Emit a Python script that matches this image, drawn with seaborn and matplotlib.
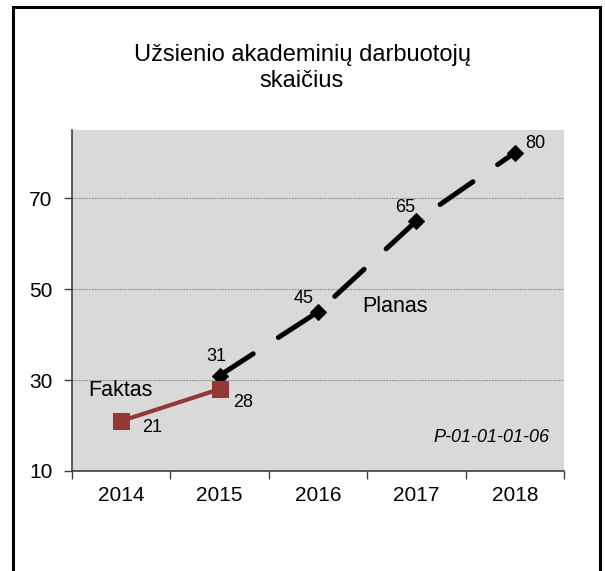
import numpy as np
import pandas as pd
import matplotlib
matplotlib.use("Agg")
import matplotlib.pyplot as plt
import seaborn as sns
from matplotlib.patches import Rectangle

sns.set_style("white")
plt.rcParams["font.family"] = ["Liberation Sans", "DejaVu Sans"]
plt.rcParams["text.color"] = "black"
plt.rcParams["xtick.color"] = "black"
plt.rcParams["ytick.color"] = "black"

years = ["2014", "2015", "2016", "2017", "2018"]
faktas_years = ["2014", "2015"]
faktas_values = [21, 28]
planas_years = ["2015", "2016", "2017", "2018"]
planas_values = [31, 45, 65, 80]

df_f = pd.DataFrame({"x": [years.index(y) for y in faktas_years], "v": faktas_values})
df_p = pd.DataFrame({"x": [years.index(y) for y in planas_years], "v": planas_values})

fig = plt.figure(figsize=(6.05, 5.71), dpi=100)
ax = fig.add_axes([72 / 605, 100 / 571, 492 / 605, 341 / 571])
ax.set_facecolor("#d9d9d9")

# outer frame
fig.patches.append(Rectangle((13 / 605, -0.05), 587 / 605, 1.05 - 7 / 571,
                             transform=fig.transFigure, fill=False,
                             edgecolor="black", linewidth=2.2))

for yv in [30, 50, 70]:
    ax.axhline(yv, color="#8c8c8c", linestyle=(0, (1.5, 1)), linewidth=0.8, zorder=1)

sns.lineplot(data=df_p, x="x", y="v", ax=ax, color="black", linewidth=3.6,
             linestyle=(0, (8, 6)), dash_capstyle="round", marker="D",
             markersize=8, markeredgecolor="black", zorder=3)
sns.lineplot(data=df_f, x="x", y="v", ax=ax, color="#953735", linewidth=3,
             marker="s", markersize=12, markeredgecolor="#953735", zorder=4)

# data labels (offsets in points)
f_offsets = [(22, -5), (17, -9.5)]
p_offsets = [(-2, 14), (-10, 9.5), (-8, 9.5), (15, 6.5)]
for (x, v), off in zip(zip(df_f["x"], df_f["v"]), f_offsets):
    ax.annotate(str(v), (x, v), xytext=off, textcoords="offset points",
                fontsize=13, ha="center", va="center")
for (x, v), off in zip(zip(df_p["x"], df_p["v"]), p_offsets):
    ax.annotate(str(v), (x, v), xytext=off, textcoords="offset points",
                fontsize=13, ha="center", va="center")

ax.text(-0.337, 27.8, "Faktas", fontsize=15.5, ha="left", va="center")
ax.text(2.447, 46.1, "Planas", fontsize=15.5, ha="left", va="center")
ax.text(4.35, 17.3, "P-01-01-01-06", fontsize=13, style="italic", ha="right", va="center")

ax.set_xlim(-0.5, 4.5)
ax.set_ylim(10, 85)
ax.set_yticks([10, 30, 50, 70])
ax.set_yticklabels(["10", "30", "50", "70"], fontsize=15)
ax.set_xticks(np.arange(-0.5, 5, 1))
ax.set_xticklabels([])
ax.set_xticks(np.arange(5), minor=True)
ax.set_xticklabels(years, minor=True, fontsize=15)
ax.tick_params(axis="x", which="major", length=6, width=1, color="#404040", direction="out", bottom=True)
ax.tick_params(axis="x", which="minor", length=0, pad=11)
ax.tick_params(axis="y", length=6, width=1, color="#404040", direction="out", left=True, pad=8)
ax.set_xlabel("")
ax.set_ylabel("")

for s in ["top", "right"]:
    ax.spines[s].set_visible(False)
for s in ["left", "bottom"]:
    ax.spines[s].set_color("#404040")
    ax.spines[s].set_linewidth(1.2)

fig.text(302 / 605, 1 - 55 / 571, "Užsienio akademinių darbuotojų", fontsize=17, ha="center", va="center")
fig.text(302 / 605, 1 - 81 / 571, "skaičius", fontsize=17, ha="center", va="center")

fig.savefig("out.png", dpi=100)
